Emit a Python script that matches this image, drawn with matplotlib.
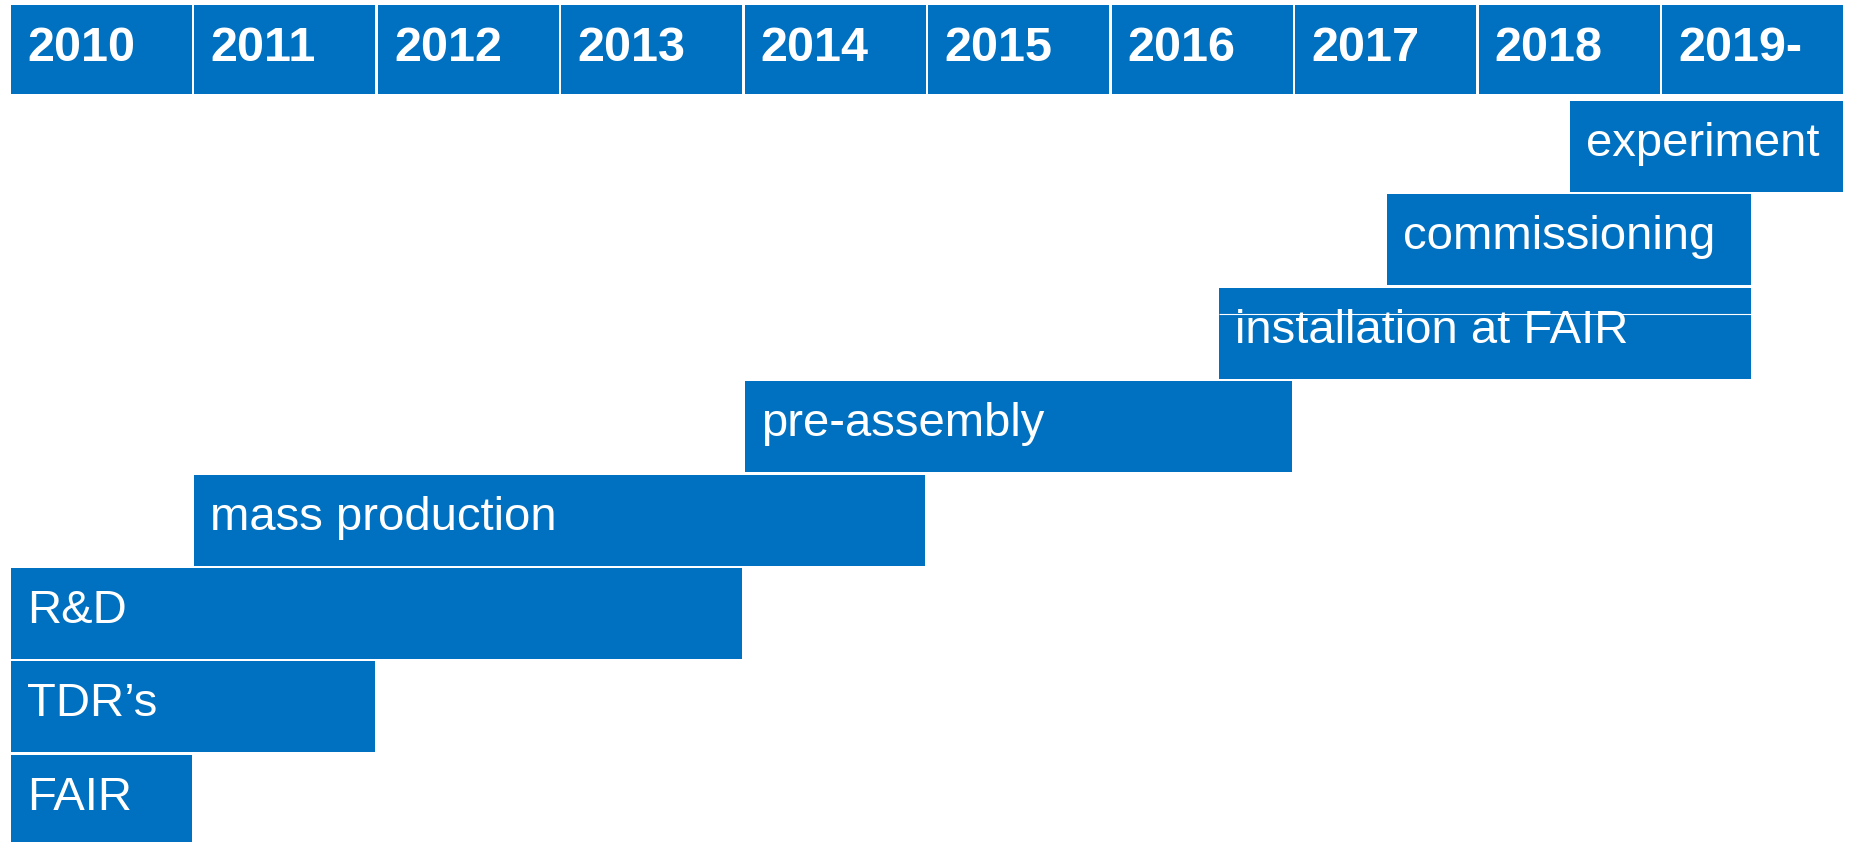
import matplotlib.pyplot as plt

# project phases, top row first
phases = ["experiment", "commissioning", "installation at FAIR", "pre-assembly",
          "mass production", "R&D", "TDR\u2019s", "FAIR"]
starts = [2018.5, 2017.5, 2016.585, 2014.0, 2011.0, 2010.0, 2010.0, 2010.0]
ends = [2019.987, 2019.485, 2019.485, 2016.982, 2014.985, 2013.985, 2011.985, 2010.987]

years = list(range(2010, 2020))
year_labels = [str(y) for y in years[:-1]] + ["2019-"]

BLUE = "#0070C0"
PITCH = 93.4          # px per row
PX_YEAR = 183.44      # px per year

fig = plt.figure(figsize=(18.52, 8.42), dpi=100)
ax = fig.add_axes([0, 0, 1, 1])
ax.set_xlim(2010 - 11 / PX_YEAR, 2010 + (1852 - 11) / PX_YEAR)
ax.set_ylim((842 - 101) / PITCH, -101 / PITCH)
ax.axis("off")

pad_x = 16 / PX_YEAR

# year header
head_top = (5 - 101) / PITCH
head_h = 89 / PITCH
cell_w = 181 / PX_YEAR
ax.barh([head_top] * len(years), [cell_w] * len(years), left=years,
        height=head_h, align="edge", color=BLUE, linewidth=0)
for y, lab in zip(years, year_labels):
    ax.text(y + pad_x, head_top + 56 / PITCH, lab, color="white",
            fontsize=35, fontweight="bold", family="Liberation Sans",
            va="baseline", ha="left")

# phase bars
bar_h = 91 / PITCH
rows = list(range(len(phases)))
widths = [e - s for s, e in zip(starts, ends)]
ax.barh(rows, widths, left=starts, height=bar_h, align="edge",
        color=BLUE, linewidth=0)
for r, s, lab in zip(rows, starts, phases):
    ax.text(s + pad_x, r + 55 / PITCH, lab, color="white", fontsize=34,
            family="Liberation Sans", va="baseline", ha="left")

# hairline through the installation bar
r = phases.index("installation at FAIR")
ax.hlines(r + 26 / PITCH, starts[r], ends[r], color="white", linewidth=0.8)

fig.savefig("out.png", dpi=100)
